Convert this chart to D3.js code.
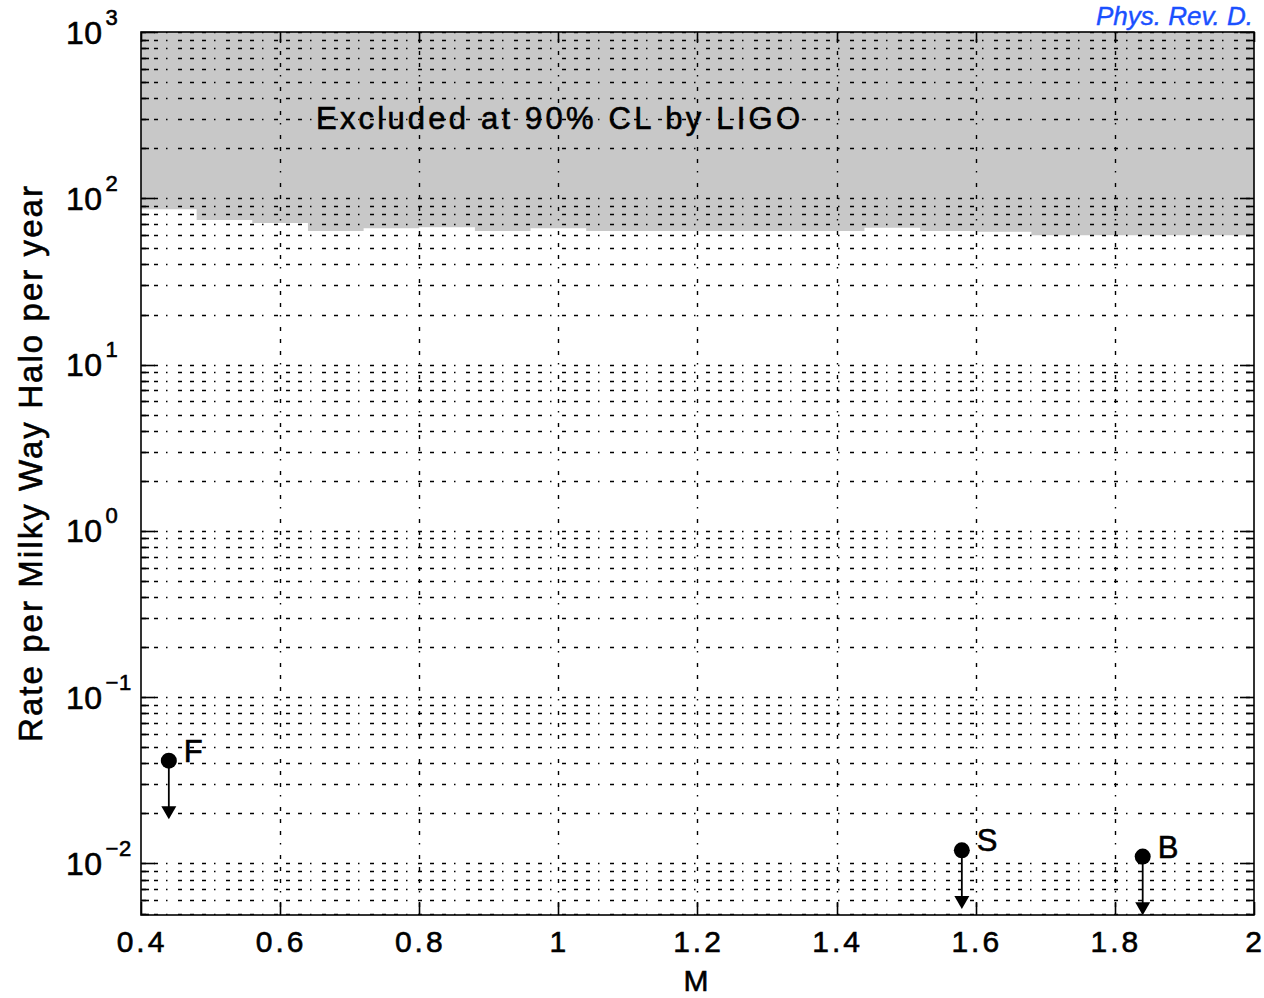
<!DOCTYPE html>
<html>
<head>
<meta charset="utf-8">
<script src="https://cdn.jsdelivr.net/npm/d3@7"></script>
<style>
  html, body { margin: 0; padding: 0; background: #fff; }
  svg text { font-family: "Liberation Sans", Arial, Helvetica, sans-serif; fill: #000; }
  svg text.heavy { stroke: #000; stroke-width: 0.6px; }
</style>
</head>
<body>
<svg id="chart" width="1264" height="998"></svg>
<script>
// Mass axis ticks and labels
const xTicks = [0.4, 0.6, 0.8, 1.0, 1.2, 1.4, 1.6, 1.8, 2.0];
const xTickLabels = ["0.4", "0.6", "0.8", "1", "1.2", "1.4", "1.6", "1.8", "2"];

// Rate axis decades and their exponents
const yDecades = [1e-2, 1e-1, 1e0, 1e1, 1e2, 1e3];
const yExponents = ["\u22122", "\u22121", "0", "1", "2", "3"];

// Excluded region: upper limit (rate per halo per year) in mass bins
const binEdges = [0.40, 0.48, 0.56, 0.64, 0.72, 0.80, 0.88, 0.96, 1.04, 1.12, 1.20,
                  1.28, 1.36, 1.44, 1.52, 1.60, 1.68, 1.76, 1.84, 1.92, 2.00];
const binLimits = [86, 74, 71, 63.5, 66, 67, 63.5, 66, 63.5, 63.5,
                   63.5, 63.5, 63.5, 66.5, 63.5, 63, 60, 60, 60, 60];

// Upper-limit events
const eventNames = ["F", "S", "B"];
const eventMasses = [0.44, 1.58, 1.84];
const eventRates = [0.0415, 0.012, 0.011];
const arrowFactor = 2.25; // arrows point down by this factor in rate

const svg = d3.select("#chart");
const L = 141, R = 1254, T = 32, B = 915;

const x = d3.scaleLinear().domain([0.4, 2.0]).range([L, R]);
const y = d3.scaleLog().domain([0.0049, 1000]).range([B, T]);

svg.append("rect").attr("width", 1264).attr("height", 998).attr("fill", "#fff");

svg.append("defs").append("clipPath").attr("id", "plotClip")
  .append("rect").attr("x", L).attr("y", T).attr("width", R - L).attr("height", B - T);

const plot = svg.append("g").attr("clip-path", "url(#plotClip)");

// Shaded exclusion region above the step limit
const stepPts = [];
binLimits.forEach((v, i) => {
  stepPts.push([binEdges[i], v]);
  stepPts.push([binEdges[i + 1], v]);
});
const area = d3.area()
  .x(d => x(d[0]))
  .y0(T)
  .y1(d => y(d[1]));
plot.append("path").datum(stepPts).attr("d", area).attr("fill", "#c8c8c8");

// Dotted grid
const gridDash = "1.5,10.5,4,8,4,8,4,8";
const [ymin, ymax] = y.domain();
const gridVals = [];
for (let e = -3; e <= 3; e++) {
  for (let m = 1; m <= 9; m++) {
    const v = m * Math.pow(10, e);
    if (v >= ymin && v <= ymax) gridVals.push(v);
  }
}
plot.append("g").selectAll("line").data(gridVals).join("line")
  .attr("x1", L).attr("x2", R)
  .attr("y1", d => Math.round(y(d)) + 0.5).attr("y2", d => Math.round(y(d)) + 0.5)
  .attr("stroke", "#000").attr("stroke-width", 1.4)
  .attr("stroke-dasharray", gridDash).attr("stroke-dashoffset", 23);

plot.append("g").selectAll("line").data(xTicks.slice(1, -1)).join("line")
  .attr("x1", d => Math.round(x(d)) + 0.5).attr("x2", d => Math.round(x(d)) + 0.5)
  .attr("y1", T).attr("y2", B)
  .attr("stroke", "#000").attr("stroke-width", 1.4)
  .attr("stroke-dasharray", gridDash).attr("stroke-dashoffset", 5);

// Axis box and inward ticks
const axes = svg.append("g").attr("stroke", "#000").attr("stroke-width", 1.6);
axes.append("rect").attr("x", L).attr("y", T).attr("width", R - L).attr("height", B - T)
  .attr("fill", "none");

xTicks.forEach(t => {
  const px = Math.round(x(t)) + 0.5;
  axes.append("line").attr("x1", px).attr("x2", px).attr("y1", B).attr("y2", B - 13);
  axes.append("line").attr("x1", px).attr("x2", px).attr("y1", T).attr("y2", T + 10);
});

gridVals.forEach(v => {
  const py = Math.round(y(v)) + 0.5;
  const major = yDecades.includes(v);
  const len = major ? 14 : 8;
  axes.append("line").attr("x1", L).attr("x2", L + len).attr("y1", py).attr("y2", py);
  axes.append("line").attr("x1", R).attr("x2", R - len).attr("y1", py).attr("y2", py);
});

// X tick labels
svg.append("g").selectAll("text").data(xTicks).join("text")
  .attr("class", "heavy")
  .attr("x", d => x(d) + 1)
  .attr("y", 952)
  .attr("text-anchor", "middle")
  .attr("font-size", 30)
  .attr("letter-spacing", 3)
  .text((d, i) => xTickLabels[i]);

// Y tick labels: 10 with superscript exponent
const yLab = svg.append("g");
yDecades.forEach((v, i) => {
  const py = y(v);
  const t = yLab.append("text").attr("class", "heavy")
    .attr("x", 66).attr("y", py + 11.5).attr("font-size", 32)
    .attr("letter-spacing", 0.5);
  t.append("tspan").text("10");
  t.append("tspan").attr("dx", 3).attr("dy", -19).attr("font-size", 22).text(yExponents[i]);
});

// Axis titles
svg.append("text")
  .attr("class", "heavy")
  .attr("x", 696).attr("y", 991)
  .attr("text-anchor", "middle")
  .attr("font-size", 30)
  .text("M");

svg.append("text")
  .attr("class", "heavy")
  .attr("transform", "translate(42,464) rotate(-90)")
  .attr("text-anchor", "middle")
  .attr("font-size", 33)
  .attr("textLength", 556)
  .attr("lengthAdjust", "spacing")
  .text("Rate per Milky Way Halo per year");

// Region annotation
svg.append("text")
  .attr("class", "heavy")
  .attr("x", 316).attr("y", 129)
  .attr("font-size", 31)
  .attr("textLength", 484)
  .attr("lengthAdjust", "spacing")
  .text("Excluded at 90% CL by LIGO");

// Events: marker with downward upper-limit arrow
const ev = svg.append("g");
eventNames.forEach((name, i) => {
  const cx = x(eventMasses[i]);
  const cy = y(eventRates[i]);
  const tip = y(eventRates[i] / arrowFactor);
  ev.append("line").attr("x1", cx).attr("x2", cx).attr("y1", cy).attr("y2", tip - 6)
    .attr("stroke", "#000").attr("stroke-width", 1.8);
  ev.append("path")
    .attr("d", `M${cx - 7.5},${tip - 13}L${cx + 7.5},${tip - 13}L${cx},${tip}Z`)
    .attr("fill", "#000");
  ev.append("circle").attr("cx", cx).attr("cy", cy).attr("r", 8).attr("fill", "#000");
  ev.append("text").attr("class", "heavy")
    .attr("x", cx + 15).attr("y", cy + 1).attr("font-size", 31).text(name);
});

// Journal tag
svg.append("text")
  .attr("x", 1253).attr("y", 25)
  .attr("text-anchor", "end")
  .attr("font-size", 26)
  .attr("font-style", "italic")
  .style("fill", "#1a50ff")
  .style("stroke", "#1a50ff")
  .style("stroke-width", "0.4px")
  .text("Phys. Rev. D.");
</script>
</body>
</html>
